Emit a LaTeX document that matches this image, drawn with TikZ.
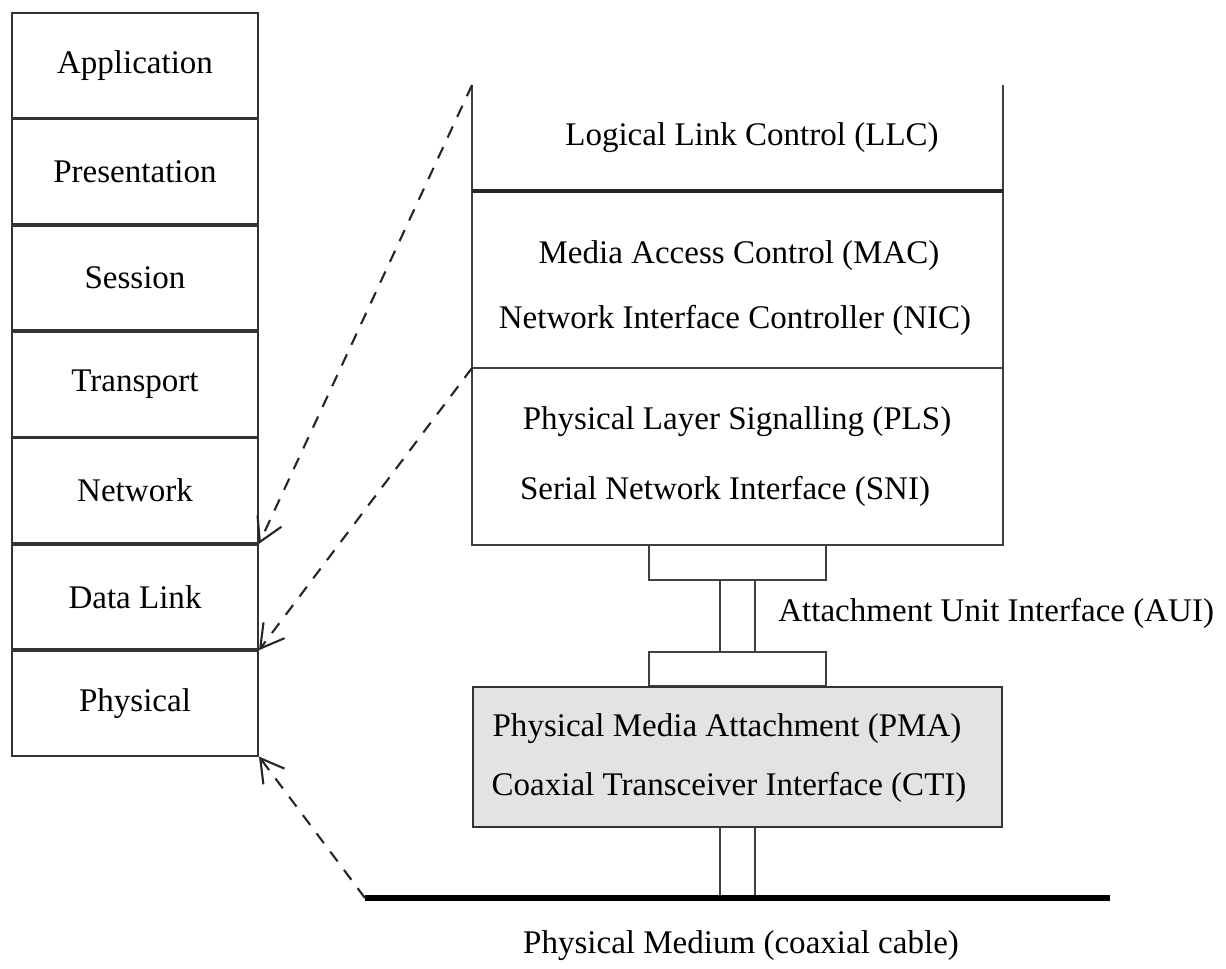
\documentclass[tikz,border=0pt]{standalone}
\usepackage{fontspec}
\setmainfont{Liberation Serif}
\usetikzlibrary{arrows.meta}
\definecolor{panelgray}{gray}{0.89}
\tikzset{
  layer/.style={draw=black!80, line width=1pt, minimum width=246.2*0.02cm, minimum height=104.6*0.02cm, inner sep=0pt, font=\fontsize{18.8}{22}\selectfont},
  lbl/.style={font=\fontsize{18.8}{22}\selectfont, inner sep=0pt},
  wall/.style={draw=black!75, line width=1.2pt},
  sep/.style={draw=black!85, line width=1.8pt},
  dasharrow/.style={draw=black!85, line width=1.2pt, dash pattern=on 7pt off 6pt, -{Straight Barb[length=13pt,width=15pt,line width=1.2pt]}},
}
\begin{document}
\begin{tikzpicture}[x=0.02cm,y=-0.02cm]
\useasboundingbox (0,0) rectangle (1226,968);
% OSI stack
\node[layer] (app) at (135,65.2) {Application};
\node[layer,anchor=north] (pres) at (app.south) {Presentation};
\node[layer,anchor=north] (sess) at (pres.south) {Session};
\node[layer,anchor=north] (trans) at (sess.south) {Transport};
\node[layer,anchor=north] (net) at (trans.south) {Network};
\node[layer,anchor=north] (dl) at (net.south) {Data Link};
\node[layer,anchor=north] (phys) at (dl.south) {Physical};
% right column
\coordinate (tl) at (472,85);
\coordinate (tr) at (1003,85);
\coordinate (ml) at (472,191);
\coordinate (mr) at (1003,191);
\coordinate (sl) at (472,368);
\coordinate (sr) at (1003,368);
\coordinate (bl) at (472,545);
\coordinate (br) at (1003,545);
\draw[wall] (tl) -- (bl) -- (br) -- (tr);
\draw[sep] (ml) -- (mr);
\draw[wall] (sl) -- (sr);
\node[lbl] (llc) at (752,138) {Logical Link Control (LLC)};
\node[lbl] (mac) at (739,256) {Media Access Control (MAC)};
\node[lbl] (nic) at (735,320) {Network Interface Controller (NIC)};
\node[lbl] (pls) at (737,422) {Physical Layer Signalling (PLS)};
\node[lbl] (sni) at (725,491) {Serial Network Interface (SNI)};
% AUI connector
\draw[wall] (649,545) rectangle (826,580);
\draw[wall] (720,580) -- (720,652);
\draw[wall] (755,580) -- (755,652);
\draw[wall] (649,652) rectangle (826,686);
\node[lbl,anchor=west] (aui) at (778,613) {Attachment Unit Interface (AUI)};
% PMA box
\node[draw=black!80, line width=1.2pt, fill=panelgray, minimum width=529*0.02cm, minimum height=140*0.02cm, inner sep=0pt] (pma) at (737.5,757) {};
\node[lbl] (pmat) at (727,729) {Physical Media Attachment (PMA)};
\node[lbl] (cti) at (729,787) {Coaxial Transceiver Interface (CTI)};
% drop cable
\draw[wall] (720,828) -- (720,898);
\draw[wall] (755,828) -- (755,898);
\coordinate (cabL) at (365,898);
\coordinate (cabR) at (1110,898);
\draw[black, line width=3.2pt] (cabL) -- (cabR);
\node[lbl] (medium) at (741,946) {Physical Medium (coaxial cable)};
% dashed arrows
\draw[dasharrow] (tl) -- (dl.north east);
\draw[dasharrow] (sl) -- (phys.north east);
\draw[dasharrow] (cabL) -- (phys.south east);
\end{tikzpicture}
\end{document}
